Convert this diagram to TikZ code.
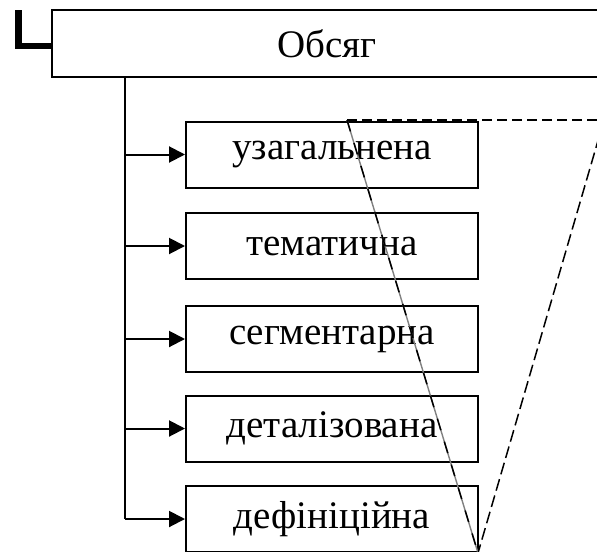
\documentclass[tikz,border=0pt]{standalone}
\usepackage{fontspec}
\setmainfont{Liberation Serif}
\usetikzlibrary{arrows.meta,positioning}
\tikzset{kind/.style={rectangle,draw=black,line width=1pt,inner sep=0pt,minimum width=146pt,minimum height=33pt,font=\fontsize{19.5}{22}\selectfont}}
\begin{document}
\begin{tikzpicture}[x=0.5pt,y=-0.5pt]
\useasboundingbox (0,0) rectangle (597,551);
\clip (0,0) rectangle (597,551);
% \draw[help lines] (0,0) grid (597,551);
\node (o) [rectangle,draw=black,line width=1pt,minimum width=275pt,minimum height=33.5pt,font=\fontsize{19.5}{22}\selectfont] at (327,43.5) {Обсяг};
\node (s1) [kind] at (332,154.5) {узагальнена};
\node (s2) [kind] at (332,246) {тематична};
\node (s3) [kind] at (332,339) {сегментарна};
\node (s4) [kind] at (332,428.5) {деталізована};
\node (s5) [kind] at (332,519) {дефініційна};
%
\draw[line width=3.3pt] (18.5,10.5) -- (18.5,46) -- (o.west |- 0,46);
\coordinate (t) at (125,77);
\draw[line width=1pt] (t) -- (t |- s5);
\foreach \s in {s1,s2,s3,s4,s5}
  \path[-{Triangle[length=8pt,width=8pt]},line width=1pt] (t |- \s) edge (\s);
% trapezoid
\coordinate (a) at (347,120);
\coordinate (b) at (604,120);
\coordinate (c) at (478,553);
\draw[gray,line width=0.7pt] (a) -- (c);
\draw[black,line width=0.75pt,dash pattern=on 6pt off 6pt] (a) -- (c);
\draw[black,line width=0.75pt,dash pattern=on 5pt off 2.5pt] (a) -- (b);
\draw[black,line width=0.75pt,dash pattern=on 6pt off 2.5pt] (b) -- (c);
\end{tikzpicture}
\end{document}
